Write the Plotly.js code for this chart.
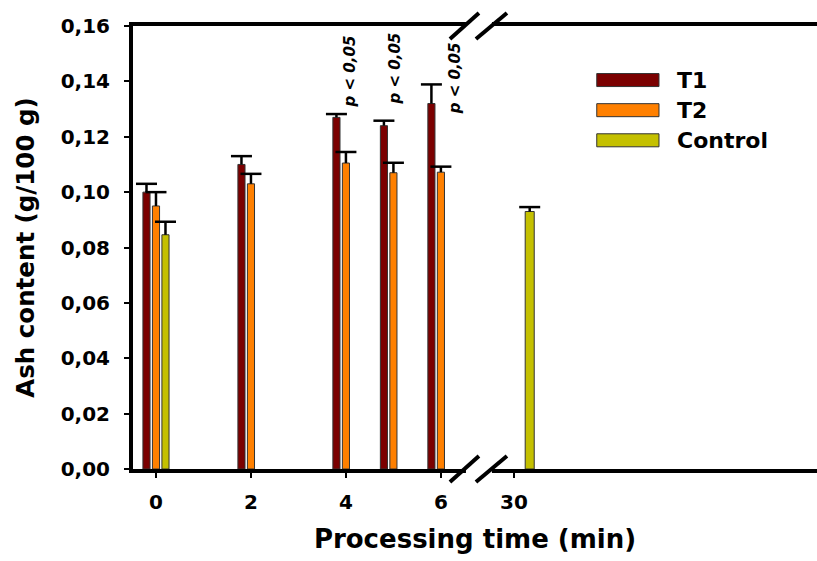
<!DOCTYPE html>
<html>
<head>
<meta charset="utf-8">
<script src="https://cdn.plot.ly/plotly-3.0.1.min.js"></script>
<style>html,body{margin:0;padding:0;background:#fff;}#chart{width:817px;height:561px;}</style>
</head>
<body>
<div id="chart"></div>
<script>
// ---- data ----
const times = [0, 2, 4, 5, 6];
const t1 = [0.100, 0.110, 0.127, 0.124, 0.132];
const t1Err = [0.003, 0.003, 0.0012, 0.0018, 0.0069];
const t2 = [0.095, 0.103, 0.1105, 0.107, 0.1072];
const t2Err = [0.005, 0.0036, 0.004, 0.0036, 0.002];
const controlTimes = [0, 30];
const control = [0.0846, 0.093];
const controlErr = [0.0047, 0.0016];
const tickTimes = [0, 2, 4, 6, 30];
const tickLabels = ['0', '2', '4', '6', '30'];
const pTimes = [4, 5, 6];
const pLabel = 'p < 0,05';
const seriesNames = ['T1', 'T2', 'Control'];

// ---- broken axis mapping ----
const X_RANGE = [-0.484, 13.92];
const BREAK_AT = 6.78;          // display position of the axis break
const POS_30 = 7.54;            // display position of 30 min
function pos(t) { return t <= 6 ? t : POS_30; }
const breakPaper = (BREAK_AT - X_RANGE[0]) / (X_RANGE[1] - X_RANGE[0]);

const colors = ['#7B0000', '#FF8000', '#C4C000'];
const FONT = 'DejaVu Sans, Arial, sans-serif';
const W = 0.15;

const traces = [];
function addSeries(xs, ys, errs, shift, color, name, widths) {
  const xp = xs.map(t => pos(t) + (typeof shift === 'function' ? shift(t) : shift));
  traces.push({
    type: 'bar', name: name, x: xp, y: ys,
    width: widths || W,
    marker: {color: color, line: {color: '#333', width: 1}},
    error_y: {type: 'data', array: errs, arrayminus: errs.map(() => 0), symmetric: false,
              color: '#000', thickness: 2.5, width: 0},
    showlegend: false, hoverinfo: 'x+y'
  });
  // error-bar caps (top only)
  traces.push({
    type: 'scatter', mode: 'markers', x: xp, y: ys.map((v, i) => v + errs[i]),
    marker: {symbol: 'line-ew', size: 15, color: '#000', line: {color: '#000', width: 2.5}},
    showlegend: false, hoverinfo: 'skip', cliponaxis: false
  });
}
addSeries(times, t1, t1Err, -0.2, colors[0], seriesNames[0]);
addSeries(times, t2, t2Err, 0, colors[1], seriesNames[1]);
addSeries(controlTimes, control, controlErr, t => (t > 6 ? 0.33 : 0.2), colors[2], seriesNames[2],
          controlTimes.map(t => t > 6 ? 0.19 : W));

const shapes = [];
const annotations = [];
// break marks (top and bottom)
[1, 0].forEach(yv => {
  shapes.push({type: 'rect', xref: 'paper', yref: 'paper', xsizemode: 'pixel', ysizemode: 'pixel',
    xanchor: breakPaper, yanchor: yv, x0: -12, x1: 14, y0: -4, y1: 4,
    fillcolor: '#fff', line: {width: 0}, layer: 'above'});
  [[-28, 1], [-2, 29]].forEach(([a, b]) => {
    shapes.push({type: 'line', xref: 'paper', yref: 'paper', xsizemode: 'pixel', ysizemode: 'pixel',
      xanchor: breakPaper, yanchor: yv, x0: a, x1: b, y0: -13, y1: 13,
      line: {color: '#000', width: 4}, layer: 'above'});
  });
});
// custom legend
const legY = [0.878, 0.810, 0.742];
seriesNames.forEach((n, i) => {
  shapes.push({type: 'rect', xref: 'paper', yref: 'paper', x0: 0.678, x1: 0.769,
    y0: legY[i] - 0.0147, y1: legY[i] + 0.0147, fillcolor: colors[i],
    line: {color: '#333', width: 1}});
  annotations.push({xref: 'paper', yref: 'paper', x: 0.792, y: legY[i], text: n,
    showarrow: false, xanchor: 'left', yanchor: 'middle',
    font: {family: FONT, size: 22, color: '#000', weight: 700}});
});
// significance labels
const pOff = [0.08, 0.03, 0.29];
const pY = [0.1435, 0.1446, 0.141];
pTimes.forEach((t, i) => {
  annotations.push({xref: 'x', yref: 'y', x: pos(t) + pOff[i], y: pY[i], text: pLabel,
    textangle: -90, showarrow: false, xanchor: 'center', yanchor: 'middle',
    font: {family: FONT, size: 15, color: '#000', weight: 700, style: 'italic'}});
});

const layout = {
  width: 817, height: 561,
  margin: {l: 133, r: 0, t: 26, b: 92},
  paper_bgcolor: '#fff', plot_bgcolor: '#fff',
  barmode: 'overlay',
  separators: ', ',
  font: {family: FONT, color: '#000', size: 20, weight: 700},
  xaxis: {
    range: X_RANGE, showgrid: false, zeroline: false,
    tickmode: 'array', tickvals: tickTimes.map(pos), ticktext: tickLabels,
    ticks: 'outside', ticklen: 5, tickwidth: 2, tickcolor: '#000',
    showline: true, linecolor: '#000', linewidth: 4, mirror: true,
    tickfont: {family: FONT, size: 20, weight: 700},
    ticklabelstandoff: 7,
    title: {text: 'Processing time (min)', font: {family: FONT, size: 26, weight: 700}, standoff: 18},
    automargin: false
  },
  yaxis: {
    range: [0, 0.16], showgrid: false, zeroline: false,
    tickmode: 'linear', tick0: 0, dtick: 0.02, tickformat: '.2f',
    ticks: 'outside', ticklen: 5, tickwidth: 2, tickcolor: '#000',
    showline: true, linecolor: '#000', linewidth: 4,
    tickfont: {family: FONT, size: 20, weight: 700},
    ticklabelstandoff: 10,
    title: {text: 'Ash content (g/100 g)', font: {family: FONT, size: 24.5, weight: 700}, standoff: 20},
    automargin: false
  },
  shapes: shapes,
  annotations: annotations
};

Plotly.newPlot('chart', traces, layout, {displayModeBar: false, staticPlot: true});
</script>
</body>
</html>
